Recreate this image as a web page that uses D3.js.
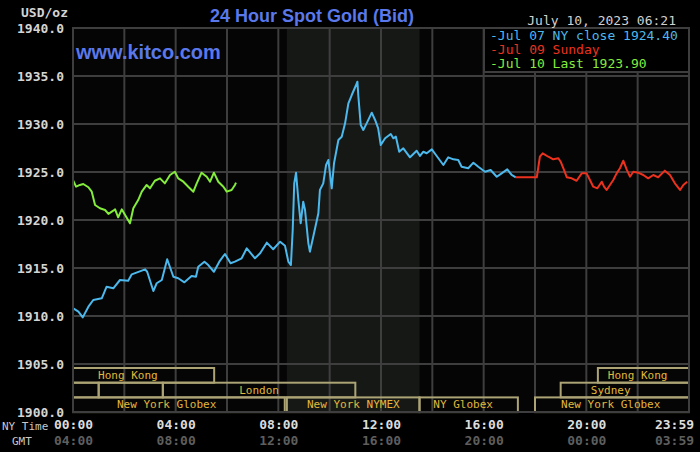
<!DOCTYPE html>
<html>
<head>
<meta charset="utf-8">
<script src="https://cdn.jsdelivr.net/npm/d3@7"></script>
<style>
  body { margin: 0; background: #000; }
  svg { display: block; }
  text { font-family: 'DejaVu Sans Mono', monospace; }
  text.sans { font-family: 'Liberation Sans', Arial, sans-serif; }
</style>
</head>
<body>
<svg id="chart" width="700" height="452"></svg>
<script>
// price ticks on the left
const priceTicks = [1900, 1905, 1910, 1915, 1920, 1925, 1930, 1935, 1940]

// hour ticks, NY time and GMT labels
const hourTicks = [0, 4, 8, 12, 16, 20, 23.983]
const nyLabels = ['00:00', '04:00', '08:00', '12:00', '16:00', '20:00', '23:59']
const gmtLabels = ['04:00', '08:00', '12:00', '16:00', '20:00', '00:00', '03:59']

// Jul 07 NY close (blue), hours since 00:00 NY time
const jul07Hours = [0.01, 0.21, 0.38, 0.60, 0.79, 1.12, 1.31, 1.57, 1.83, 2.15, 2.29, 2.81, 2.89, 3.13, 3.26, 3.46, 3.67, 3.91, 4.10, 4.34, 4.62, 4.79, 4.88, 5.12, 5.27, 5.49, 5.70, 5.92, 6.14, 6.31, 6.57, 6.77, 7.09, 7.29, 7.55, 7.80, 8.07, 8.26, 8.39, 8.49, 8.56, 8.62, 8.69, 8.78, 8.87, 8.97, 9.04, 9.17, 9.23, 9.36, 9.56, 9.62, 9.75, 9.86, 9.95, 10.08, 10.17, 10.34, 10.47, 10.60, 10.73, 10.86, 11.03, 11.08, 11.12, 11.21, 11.31, 11.44, 11.64, 11.77, 11.89, 11.99, 12.16, 12.38, 12.48, 12.58, 12.71, 12.87, 13.13, 13.39, 13.52, 13.65, 13.78, 13.98, 14.17, 14.43, 14.62, 14.82, 15.01, 15.14, 15.40, 15.60, 15.79, 16.05, 16.27, 16.51, 16.70, 16.92, 17.09, 17.25]
const jul07Price = [1910.80, 1910.45, 1909.86, 1910.97, 1911.67, 1911.84, 1913.05, 1912.89, 1913.75, 1913.68, 1914.34, 1914.86, 1914.61, 1912.60, 1913.41, 1913.75, 1915.91, 1914.09, 1913.93, 1913.51, 1914.17, 1914.09, 1915.14, 1915.66, 1915.31, 1914.61, 1915.66, 1916.46, 1915.49, 1915.66, 1916.01, 1917.05, 1916.01, 1916.53, 1917.64, 1916.95, 1917.74, 1917.31, 1915.66, 1915.31, 1918.96, 1923.82, 1924.93, 1922.08, 1919.66, 1921.91, 1921.04, 1917.57, 1916.70, 1918.26, 1920.70, 1923.13, 1923.82, 1925.73, 1926.25, 1923.30, 1925.91, 1928.33, 1928.68, 1930.07, 1932.16, 1933.02, 1934.06, 1934.41, 1932.84, 1929.90, 1929.38, 1930.07, 1931.18, 1930.42, 1929.55, 1927.81, 1928.51, 1928.96, 1928.51, 1928.68, 1927.11, 1927.47, 1926.53, 1927.22, 1926.67, 1927.11, 1926.95, 1927.36, 1926.67, 1925.73, 1926.53, 1926.32, 1926.25, 1925.55, 1925.39, 1925.97, 1925.55, 1925.03, 1925.21, 1924.51, 1924.86, 1925.28, 1924.69, 1924.45]

// Jul 09 Sunday (red)
const jul09Hours = [17.25, 18.07, 18.19, 18.30, 18.52, 18.71, 18.91, 19.00, 19.13, 19.24, 19.43, 19.62, 19.82, 20.01, 20.14, 20.27, 20.43, 20.60, 20.69, 20.79, 20.92, 21.05, 21.18, 21.31, 21.44, 21.57, 21.70, 21.83, 22.02, 22.22, 22.41, 22.61, 22.80, 23.06, 23.26, 23.45, 23.65, 23.78, 23.93]
const jul09Price = [1924.45, 1924.45, 1926.59, 1926.95, 1926.59, 1926.32, 1926.43, 1926.07, 1925.21, 1924.45, 1924.34, 1924.09, 1924.86, 1924.86, 1924.17, 1923.47, 1923.30, 1923.99, 1923.47, 1923.13, 1923.65, 1924.17, 1924.86, 1925.39, 1926.18, 1925.28, 1924.51, 1925.03, 1924.93, 1924.69, 1924.34, 1924.69, 1924.45, 1925.14, 1924.69, 1923.82, 1923.13, 1923.65, 1923.99]

// Jul 10 last (green)
const jul10Hours = [0.01, 0.12, 0.27, 0.40, 0.60, 0.73, 0.86, 1.05, 1.25, 1.38, 1.57, 1.64, 1.76, 1.90, 2.03, 2.22, 2.35, 2.54, 2.68, 2.87, 3.00, 3.19, 3.39, 3.58, 3.78, 3.97, 4.10, 4.30, 4.49, 4.69, 4.82, 5.01, 5.21, 5.34, 5.49, 5.66, 5.86, 5.99, 6.18, 6.31, 6.35]
const jul10Price = [1924.09, 1923.47, 1923.65, 1923.75, 1923.41, 1922.95, 1921.56, 1921.22, 1921.04, 1920.63, 1920.97, 1921.11, 1920.28, 1921.11, 1920.52, 1919.66, 1921.22, 1922.08, 1922.95, 1923.65, 1923.30, 1924.09, 1924.34, 1923.82, 1924.69, 1925.03, 1924.34, 1923.99, 1923.47, 1922.95, 1923.82, 1924.93, 1924.51, 1923.99, 1924.93, 1923.99, 1923.47, 1922.95, 1923.13, 1923.65, 1923.90]

// legend entries
const legendTexts = ['-Jul 07 NY close 1924.40', '-Jul 09 Sunday', '-Jul 10 Last 1923.90']

// market sessions: row 0 is top
const sessionNames = ['Hong Kong', '', '', 'London', 'New York Globex', 'New York NYMEX', 'NY Globex', 'New York Globex', 'Sydney', 'Hong Kong']
const sessionStart = [0, 0, 1, 3.5, 0, 8.333, 13.5, 18, 19, 20.45]
const sessionEnd = [5.5, 1, 3.5, 11, 8.25, 13.5, 17.333, 24, 24, 24]
const sessionRow = [0, 1, 1, 1, 2, 2, 2, 2, 1, 0]
const sessionLabelAt = [2.14, 0, 0, 7.25, 3.65, 10.92, 15.2, 20.95, 20.95, 22.0]

// NYMEX trading hours (shaded)
const nymexHours = [8.333, 13.5]

const svg = d3.select('#chart')
const plotLeft = 73
const plotRight = 689
const plotTop = 28
const plotBottom = 412

const x = d3.scaleLinear().domain([0, 24]).range([plotLeft, plotRight])
const y = d3.scaleLinear().domain([1900, 1940]).range([plotBottom, plotTop])

const GRID = '#3e3e3e'

// plot background + shaded NYMEX session
svg.append('rect')
  .attr('x', plotLeft).attr('y', plotTop)
  .attr('width', plotRight - plotLeft).attr('height', plotBottom - plotTop)
  .attr('fill', '#050505')

svg.append('rect')
  .attr('x', x(nymexHours[0])).attr('y', plotTop)
  .attr('width', x(nymexHours[1]) - x(nymexHours[0]))
  .attr('height', plotBottom - plotTop)
  .attr('fill', '#161816')

// grid
svg.append('g')
  .selectAll('line')
  .data(priceTicks)
  .join('line')
  .attr('x1', plotLeft).attr('x2', plotRight)
  .attr('y1', d => y(d)).attr('y2', d => y(d))
  .attr('stroke', GRID).attr('stroke-width', 2)

svg.append('g')
  .selectAll('line')
  .data(d3.range(0, 25, 2))
  .join('line')
  .attr('x1', d => x(d)).attr('x2', d => x(d))
  .attr('y1', plotTop).attr('y2', plotBottom)
  .attr('stroke', GRID).attr('stroke-width', 2)

// session boxes
const ROWTOP = 368
const ROWH = 14.7
const sessions = sessionNames.map((name, i) => ({
  name, start: sessionStart[i], end: sessionEnd[i], row: sessionRow[i], at: sessionLabelAt[i]
}))

const sess = svg.append('g')
sess.selectAll('rect')
  .data(sessions)
  .join('rect')
  .attr('x', d => x(d.start))
  .attr('y', d => ROWTOP + d.row * ROWH)
  .attr('width', d => x(d.end) - x(d.start))
  .attr('height', ROWH)
  .attr('fill', 'none')
  .attr('stroke', '#aca475')
  .attr('stroke-width', 2)

sess.selectAll('text')
  .data(sessions.filter(d => d.name))
  .join('text')
  .attr('x', d => x(d.at))
  .attr('y', d => ROWTOP + d.row * ROWH + 11)
  .attr('text-anchor', 'middle')
  .attr('font-size', 11)
  .attr('fill', '#e2b83c')
  .text(d => d.name)

// price lines
const series = [
  { hours: jul07Hours, price: jul07Price, colour: '#4cb8ec' },
  { hours: jul09Hours, price: jul09Price, colour: '#ec321e' },
  { hours: jul10Hours, price: jul10Price, colour: '#84ec3c' }
]
const line = d3.line()
  .x(d => x(d[0]))
  .y(d => y(d[1]))

svg.append('g')
  .selectAll('path')
  .data(series)
  .join('path')
  .attr('d', s => line(s.hours.map((h, i) => [h, s.price[i]])))
  .attr('fill', 'none')
  .attr('stroke', s => s.colour)
  .attr('stroke-width', 2)
  .attr('stroke-linejoin', 'round')

// plot frame
svg.append('rect')
  .attr('x', plotLeft).attr('y', plotTop)
  .attr('width', plotRight - plotLeft).attr('height', plotBottom - plotTop)
  .attr('fill', 'none')
  .attr('stroke', GRID).attr('stroke-width', 2)

// legend box
svg.append('rect')
  .attr('x', 484).attr('y', plotTop)
  .attr('width', plotRight - 484).attr('height', 44)
  .attr('fill', '#000')
  .attr('stroke', GRID).attr('stroke-width', 2)

svg.append('g')
  .selectAll('text')
  .data(legendTexts)
  .join('text')
  .attr('x', 490)
  .attr('y', (d, i) => 40 + i * 14)
  .attr('font-size', 13)
  .attr('fill', (d, i) => series[i].colour)
  .text(d => d)

// y axis
const yAxis = svg.append('g')
  .attr('transform', `translate(${plotLeft - 6},0)`)
  .call(d3.axisLeft(y).tickValues(priceTicks).tickFormat(d => d.toFixed(1)).tickSize(0))
yAxis.select('.domain').remove()
yAxis.selectAll('text')
  .attr('font-weight', 'bold')
  .attr('font-size', 13)
  .attr('fill', '#d4d4d4')
  .attr('dy', '0.35em')

// x axis: NY time + GMT rows
function hourAxis (labels, yPos, colour) {
  const g = svg.append('g')
    .attr('transform', `translate(0,${yPos})`)
    .call(d3.axisBottom(x).tickValues(hourTicks).tickFormat((d, i) => labels[i]).tickSize(0).tickPadding(0))
  g.select('.domain').remove()
  g.selectAll('text')
    .attr('font-weight', 'bold')
    .attr('font-size', 13)
    .attr('fill', colour)
    .attr('dy', 0)
    .filter((d, i) => i === hourTicks.length - 1)
    .attr('text-anchor', 'end')
    .attr('dx', 5)
}
hourAxis(nyLabels, 429, '#dcdcdc')
hourAxis(gmtLabels, 445, '#5e5e5e')

svg.append('text')
  .attr('x', 2).attr('y', 430)
  .attr('font-size', 11).attr('fill', '#c8c8c8')
  .text('NY Time')
svg.append('text')
  .attr('x', 12).attr('y', 445)
  .attr('font-size', 11).attr('fill', '#c8c8c8')
  .text('GMT')

// headings
svg.append('text')
  .attr('x', 21).attr('y', 17)
  .attr('font-size', 13).attr('font-weight', 'bold').attr('fill', '#d4d4d4')
  .text('USD/oz')

svg.append('text')
  .classed('sans', true)
  .attr('x', 312).attr('y', 22)
  .attr('text-anchor', 'middle')
  .attr('font-size', 18)
  .attr('font-weight', 'bold')
  .attr('fill', '#5a78ea')
  .text('24 Hour Spot Gold (Bid)')

svg.append('text')
  .classed('sans', true)
  .attr('x', 76).attr('y', 59)
  .attr('font-size', 20)
  .attr('font-weight', 'bold')
  .attr('fill', '#5a78ea')
  .text('www.kitco.com')

svg.append('text')
  .attr('x', 676).attr('y', 25)
  .attr('text-anchor', 'end')
  .attr('font-size', 13)
  .attr('fill', '#d0d0d0')
  .text('July 10, 2023 06:21')
</script>
</body>
</html>
